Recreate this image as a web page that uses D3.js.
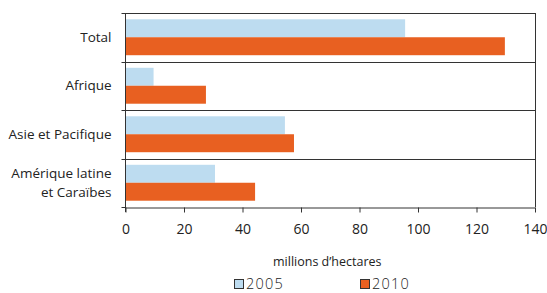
<!DOCTYPE html>
<html><head><meta charset="utf-8">
<script src="https://cdn.jsdelivr.net/npm/d3@7"></script>
<style>body{margin:0;background:#fff;} text{font-family:"Open Sans","Noto Sans",sans-serif;fill:#222;}</style>
</head><body>
<svg id="c" width="547" height="293"></svg>
<script>
const categories = [["Total"], ["Afrique"], ["Asie et Pacifique"], ["Amérique latine", "et Caraïbes"]];
const series2005 = [95.6, 9.6, 54.5, 30.6];
const series2010 = [129.7, 27.5, 57.6, 44.3];
const xTicks = [0, 20, 40, 60, 80, 100, 120, 140];
const seriesNames = ["2005", "2010"];
const colors = ["#bddcf0", "#e86021"];

const svg = d3.select("#c");
const L = 125.5, R = 535, T = 13, B = 207;
const x = d3.scaleLinear().domain([0, 140]).range([L, R]);
const y = d3.scaleBand().domain(d3.range(categories.length)).range([T, B]);
const inner = d3.scaleBand().domain([0, 1]).range([0, y.bandwidth()]).paddingOuter(0.35).paddingInner(0);

// bars
const series = [series2005, series2010];
series.forEach((vals, si) => {
  svg.append("g").selectAll("rect").data(vals).join("rect")
    .attr("x", x(0))
    .attr("y", (d, i) => y(i) + inner(si))
    .attr("width", d => x(d) - x(0))
    .attr("height", inner.bandwidth())
    .attr("fill", colors[si]);
});

// separators
svg.append("g").selectAll("line").data(d3.range(1, categories.length)).join("line")
  .attr("x1", L).attr("x2", R)
  .attr("y1", i => Math.round(y(i)) + 0.5).attr("y2", i => Math.round(y(i)) + 0.5)
  .attr("stroke", "#333").attr("stroke-width", 1);

// frame top and right
svg.append("line").attr("x1", L).attr("x2", R + 0.5).attr("y1", T + 0.5).attr("y2", T + 0.5).attr("stroke", "#333");
svg.append("line").attr("x1", R + 0.5).attr("x2", R + 0.5).attr("y1", T).attr("y2", B).attr("stroke", "#333");

// bottom axis
const xAxis = svg.append("g").attr("transform", `translate(0,${B + 0.5})`)
  .call(d3.axisBottom(x).tickValues(xTicks).tickSize(5).tickPadding(12).tickSizeOuter(0));
xAxis.select(".domain").attr("stroke", "#333");
xAxis.selectAll(".tick line").attr("stroke", "#333");
xAxis.selectAll("text").attr("font-size", 14).style("font-family", '"Open Sans","Noto Sans",sans-serif').attr("fill", "#222");

// left axis line & ticks at band boundaries
svg.append("line").attr("x1", L).attr("x2", L).attr("y1", T).attr("y2", B + 5).attr("stroke", "#333");
svg.append("g").selectAll("line").data(d3.range(0, categories.length + 1)).join("line")
  .attr("x1", L - 4).attr("x2", L)
  .attr("y1", i => (i < categories.length ? Math.round(y(i)) : B) + 0.5)
  .attr("y2", i => (i < categories.length ? Math.round(y(i)) : B) + 0.5)
  .attr("stroke", "#333");

// category labels
categories.forEach((lines, i) => {
  const cy = y(i) + y.bandwidth() / 2;
  const lh = 19;
  lines.forEach((ln, k) => {
    svg.append("text").attr("x", L - 14)
      .attr("y", cy + (k - (lines.length - 1) / 2) * lh)
      .attr("dy", "0.35em").attr("text-anchor", "end").attr("font-size", 13.5).text(ln);
  });
});

// axis title
svg.append("text").attr("x", 273).attr("y", 262).attr("dy", "0.35em").attr("font-size", 12.5).text("millions d’hectares");

// legend
const leg = [{x: 234, name: seriesNames[0], c: colors[0]}, {x: 360, name: seriesNames[1], c: colors[1]}];
leg.forEach(l => {
  svg.append("rect").attr("x", l.x + 0.5).attr("y", 279.5).attr("width", 9).attr("height", 9)
    .attr("fill", l.c).attr("stroke", "#333").attr("stroke-width", 1);
  svg.append("text").attr("x", l.x + 12).attr("y", 289).attr("font-size", 14.5)
    .attr("letter-spacing", 1.2).style("font-weight", 300).text(l.name);
});
</script>
</body></html>
